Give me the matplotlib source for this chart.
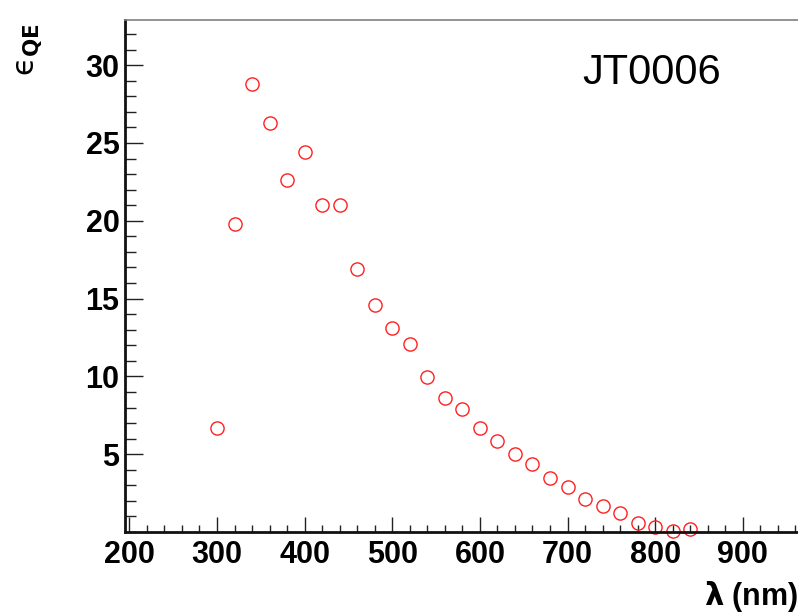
"""Quantum efficiency of photodetector JT0006 versus wavelength (ROOT-style)."""

import matplotlib
import matplotlib.pyplot as plt
from matplotlib.ticker import MultipleLocator

matplotlib.use("Agg")

# wavelength (nm) and quantum efficiency (%)
wavelength = [300, 320, 340, 360, 380, 400, 420, 440, 460, 480, 500, 520,
              540, 560, 580, 600, 620, 640, 660, 680, 700, 720, 740, 760,
              780, 800, 820, 840]
qe = [6.7, 19.8, 28.8, 26.3, 22.6, 24.4, 21.0, 21.0, 16.9, 14.6, 13.1, 12.1,
      9.95, 8.6, 7.9, 6.7, 5.85, 5.0, 4.4, 3.45, 2.9, 2.15, 1.7, 1.25,
      0.6, 0.35, 0.05, 0.2]
detector = "JT0006"

W, H = 798, 614

plt.rcParams["font.family"] = ["Liberation Sans", "DejaVu Sans"]
plt.rcParams["mathtext.fontset"] = "dejavusans"

fig = plt.figure(figsize=(W / 100, H / 100), dpi=100)
ax = fig.add_axes([125 / W, 82 / H, 673 / W, 512 / H])

ax.plot(wavelength, qe, linestyle="none", marker="o", markersize=9.5,
        markerfacecolor="none", markeredgecolor="#ff2020", markeredgewidth=1.0,
        clip_on=False)

ax.set_xlim(195, 963)
ax.set_ylim(0, 32.9)

ax.xaxis.set_major_locator(MultipleLocator(100))
ax.xaxis.set_minor_locator(MultipleLocator(20))
ax.yaxis.set_minor_locator(MultipleLocator(1))
ax.set_yticks([5, 10, 15, 20, 25, 30])

ax.tick_params(axis="both", which="both", direction="in", color="#222222",
               width=1.0)
ax.tick_params(axis="x", which="major", length=11, pad=6)
ax.tick_params(axis="x", which="minor", length=5)
ax.tick_params(axis="y", which="major", length=13, pad=4)
ax.tick_params(axis="y", which="minor", length=8)

for lab in ax.get_xticklabels() + ax.get_yticklabels():
    lab.set_fontsize(22)
    lab.set_fontweight("bold")

ax.spines["right"].set_visible(False)
for side in ("left", "bottom"):
    ax.spines[side].set_linewidth(2.0)
    ax.spines[side].set_color("#111111")
ax.spines["top"].set_linewidth(1.2)
ax.spines["top"].set_color("#808080")

fig.text(652 / W, 1 - 73 / H, detector, ha="center", va="center",
         fontsize=30, family=["Liberation Sans Narrow", "Liberation Sans"])

fig.text(1.0, 1 - 597 / H, r"$\mathbf{\lambda}$ (nm)", ha="right",
         va="center", fontsize=22, fontweight="bold")
fig.text(30 / W, 1 - 50 / H, "$\\mathrm{\u03f5}_{\\mathbf{QE}}$", rotation=90,
         ha="center", va="center", fontsize=22)

fig.savefig("out.png", dpi=100)
